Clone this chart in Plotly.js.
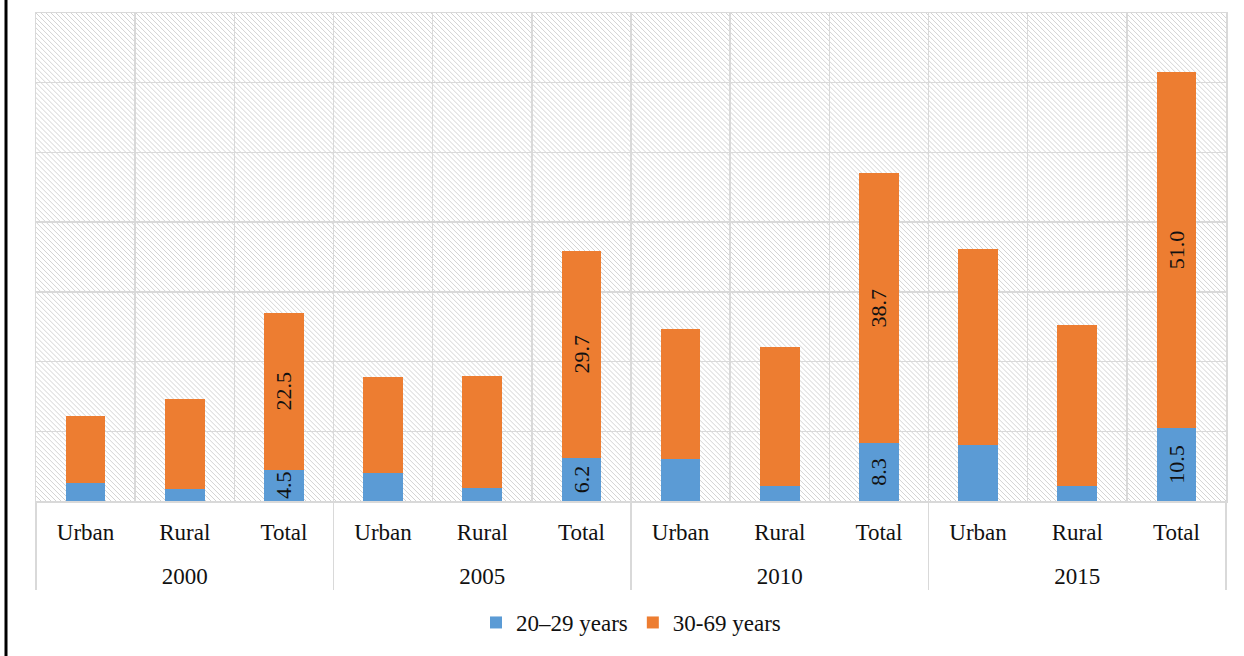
<!DOCTYPE html>
<html>
<head>
<meta charset="utf-8">
<script src="https://cdn.plot.ly/plotly-3.0.1.min.js"></script>
<style>
  html, body { margin: 0; padding: 0; background: #fff; }
  #chart { width: 1244px; height: 656px; }
</style>
</head>
<body>
<div id="chart"></div>
<script>
// ---- data ----
var years = ['2000', '2005', '2010', '2015'];
var areas = ['Urban', 'Rural', 'Total'];
var seriesNames = ['20\u201329 years', '30-69 years'];
var young = [2.6, 1.7, 4.5, 4.0, 1.9, 6.2, 6.0, 2.2, 8.3, 8.1, 2.2, 10.5];
var older = [9.6, 13.0, 22.5, 13.8, 16.0, 29.7, 18.7, 19.9, 38.7, 28.0, 23.1, 51.0];

// ---- build multicategory x ----
// a tiny invisible second line under each area label gives the year row its gap
var areaSpacer = "<br><span style='font-size:8px'>&nbsp;</span>";
var xYear = [], xArea = [];
years.forEach(function (y) {
  areas.forEach(function (a) { xYear.push(y); xArea.push(a + areaSpacer); });
});
function labels(vals) {
  return vals.map(function (v, i) {
    return areas[i % areas.length] === 'Total' ? v.toFixed(1) : '';
  });
}

var fontFam = '"Liberation Serif", "Times New Roman", serif';

var common = {
  type: 'bar',
  x: [xYear, xArea],
  textposition: 'inside',
  textangle: -90,
  insidetextanchor: 'middle',
  constraintext: 'none',
  textfont: { family: fontFam, size: 22, color: '#111' },
  hoverinfo: 'skip'
};

var t1 = Object.assign({}, common, {
  name: seriesNames[0], y: young, text: labels(young),
  marker: { color: '#5B9BD5' }
});
var t2 = Object.assign({}, common, {
  name: seriesNames[1], y: older, text: labels(older),
  marker: { color: '#ED7D31' }
});

// hatched background pattern (style only)
var W = 1190, H = 490;
var svg = '<svg xmlns="http://www.w3.org/2000/svg" width="' + W + '" height="' + H + '" viewBox="0 0 ' + W + ' ' + H + '" preserveAspectRatio="none">' +
  '<defs><pattern id="p" patternUnits="userSpaceOnUse" width="5" height="5">' +
  '<path d="M-1,-1 L6,6 M-1,4 L1,6 M4,-1 L6,1" stroke="#d3d3d3" stroke-width="1"/>' +
  '</pattern></defs><rect width="' + W + '" height="' + H + '" fill="url(#p)"/></svg>';
var bgSrc = 'data:image/svg+xml;charset=utf-8,' + encodeURIComponent(svg);

var gridC = '#d9d9d9';

var layout = {
  width: 1244, height: 656,
  margin: { l: 36, r: 18, t: 13, b: 153 },
  paper_bgcolor: '#ffffff',
  plot_bgcolor: 'rgba(0,0,0,0)',
  barmode: 'stack',
  bargap: 0.6,
  font: { family: fontFam, size: 23, color: '#111' },
  showlegend: true,
  legend: {
    orientation: 'h', x: 0.5, xanchor: 'center',
    y: -0.249, yanchor: 'middle',
    font: { family: fontFam, size: 23, color: '#111' },
    traceorder: 'normal'
  },
  xaxis: {
    type: 'multicategory',
    tickson: 'boundaries',
    showgrid: true, gridcolor: gridC, gridwidth: 1.5,
    showline: true, linecolor: gridC, linewidth: 1.5, mirror: true,
    showdividers: true, dividercolor: gridC, dividerwidth: 1.5,
    ticks: '',
    ticklabelstandoff: 10,
    tickfont: { family: fontFam, size: 23, color: '#111' },
    fixedrange: true
  },
  yaxis: {
    range: [0, 70], dtick: 10,
    showticklabels: false, ticks: '',
    showgrid: true, gridcolor: gridC, gridwidth: 1.5,
    showline: true, linecolor: gridC, linewidth: 1.5, mirror: true,
    zeroline: false, fixedrange: true
  },
  images: [{
    source: bgSrc, xref: 'paper', yref: 'paper',
    x: 0, y: 1, sizex: 1, sizey: 1,
    xanchor: 'left', yanchor: 'top', sizing: 'stretch', layer: 'below'
  }],
  shapes: [{
    type: 'line', xref: 'paper', yref: 'paper',
    x0: (6 - 36) / 1190, x1: (6 - 36) / 1190,
    y0: (503 - 660) / 490, y1: (503 + 4) / 490,
    line: { color: '#000', width: 3 }
  }]
};

Plotly.newPlot('chart', [t1, t2], layout, { displayModeBar: false, staticPlot: true });
</script>
</body>
</html>
